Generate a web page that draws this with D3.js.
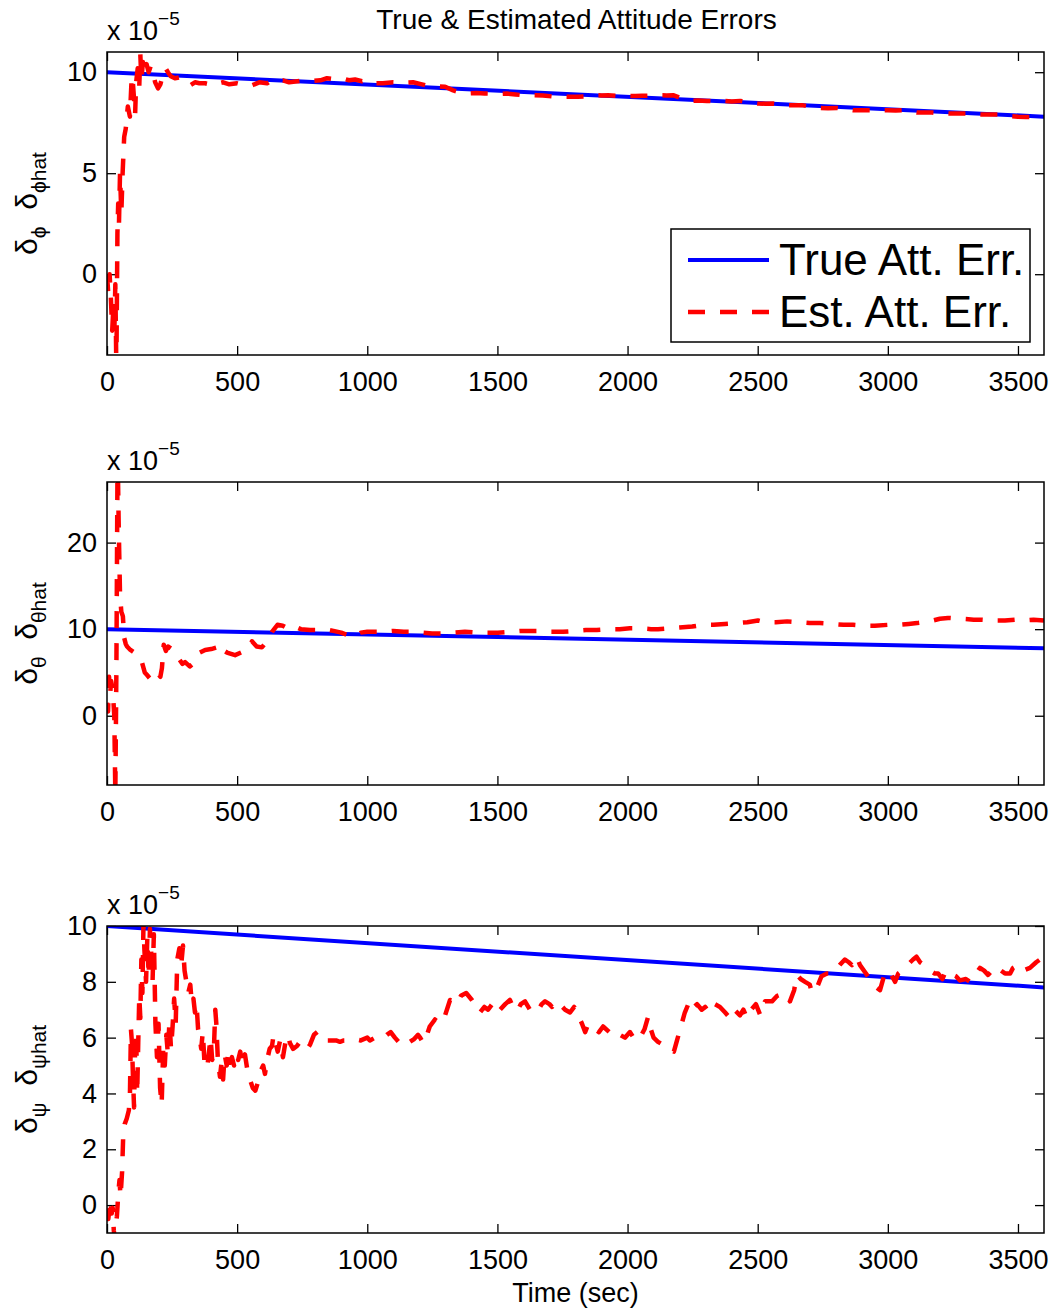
<!DOCTYPE html>
<html><head><meta charset="utf-8">
<script src="https://cdn.jsdelivr.net/npm/d3@7"></script>
<style>
body{margin:0;background:#fff;}
text{font-family:"Liberation Sans",Arial,Helvetica,sans-serif;fill:#000;}
</style></head>
<body>
<svg id="chart" width="1056" height="1312"></svg>
<script>
// ---------- DATA ----------
const xTicks = [0,500,1000,1500,2000,2500,3000,3500];
const trueT = [0, 3600];
const trueV = [10, 7.8];

// roll (phi) estimate, units of 1e-5
const estPhiT = [0,5,10,15,20,25,28,32,36,40,43,46,50,55,60,66,72,80,88,95,100,108,112,118,124,128,132,138,145,152,160,168,177,185,196,205,215,225,234,245,261,280,300,320,338,355,377,395,415,430,446,470,500,530,557,585,615,634,655,676,700,741,780,820,845,875,903,930,953,980,999,1030,1060,1100,1140,1176,1210,1241,1270,1299,1330,1364,1390,1421,1450,1479,1510,1537,1570,1598,1640,1675,1710,1748,1780,1810,1840,1867,1900,1925,1960,1998,2030,2055,2090,2117,2150,2175,2210,2240,2270,2305,2340,2367,2400,2432,2470,2501,2530,2559,2590,2612,2640,2670,2700,2739,2770,2805,2840,2866,2900,2931,2965,3000,3030,3058,3085,3112,3140,3170,3200,3239,3270,3304,3335,3366,3400,3431,3465,3500,3530,3565,3600];
const estPhiV = [0,-1,0,-1.2,-2.8,-1.5,-3,-0.5,-4.8,2,3.5,2.5,5,3,5,6.8,7.2,8.3,7.8,9.8,9.4,7.9,9.5,10.2,9.3,10.9,9.6,10.5,9.9,10.4,10.0,10.3,9.95,9.5,9.2,9.4,9.9,10.2,10.0,9.8,9.7,9.75,9.6,9.35,9.5,9.45,9.45,9.4,9.35,9.45,9.5,9.4,9.45,9.35,9.35,9.5,9.45,9.6,9.55,9.6,9.5,9.57,9.55,9.6,9.7,9.65,9.7,9.6,9.64,9.55,9.62,9.45,9.45,9.5,9.48,9.5,9.4,9.3,9.3,9.28,9.1,8.97,8.95,8.97,8.95,8.94,8.92,8.94,8.9,8.86,8.86,8.85,8.8,8.78,8.78,8.78,8.8,8.86,8.85,8.86,8.83,8.83,8.82,8.83,8.84,8.86,8.85,8.86,8.7,8.58,8.6,8.58,8.56,8.58,8.55,8.58,8.5,8.45,8.44,8.45,8.4,8.37,8.36,8.37,8.3,8.23,8.22,8.23,8.17,8.12,8.12,8.12,8.12,8.12,8.1,8.12,8.05,8.0,8.0,8.0,7.97,7.95,7.95,7.95,7.92,7.9,7.9,7.9,7.84,7.79,7.78,7.79,7.75];

// pitch (theta) estimate
const estThetaT = [0,4,8,12,16,22,28,32,36,38,40,42,45,50,55,61,66,72,77,90,100,120,134,145,154,165,173,192,205,211,218,226,235,254,265,273,290,300,318,330,350,377,400,423,434,450,461,492,515,538,557,575,595,615,634,655,675,700,722,745,780,810,838,870,900,945,975,1000,1030,1060,1100,1140,1176,1210,1249,1290,1330,1375,1420,1460,1502,1550,1590,1625,1660,1700,1752,1800,1840,1882,1930,1970,2009,2050,2090,2117,2160,2200,2248,2290,2330,2374,2420,2460,2501,2530,2570,2613,2660,2700,2739,2790,2830,2866,2910,2950,3000,3040,3080,3112,3160,3200,3231,3280,3330,3362,3410,3450,3488,3520,3560,3600];
const estThetaV = [1.5,0.5,4.5,2.5,4,3,0,-9,5,16,27,28,22,14,12,11.5,9,8.3,8.0,7.6,7.4,7.0,6.2,5.0,4.7,4.3,4.8,5.1,4.5,5.5,8.2,7.5,8.0,7.6,6.9,6.7,6.0,6.2,5.7,6.0,7.2,7.6,7.7,7.9,8.3,7.5,7.3,7.0,7.3,7.6,8.6,8.0,7.9,8.6,9.7,10.5,10.4,10.0,10.3,10.0,9.9,9.9,10.0,9.8,9.6,9.1,9.6,9.7,9.7,9.7,9.8,9.7,9.7,9.6,9.5,9.5,9.6,9.7,9.6,9.6,9.6,9.7,9.8,9.8,9.8,9.7,9.7,9.8,9.9,9.9,10.0,10.0,10.1,10.1,10.0,10.0,10.1,10.2,10.3,10.5,10.5,10.6,10.7,10.8,11.0,10.8,10.8,10.9,10.8,10.7,10.7,10.6,10.5,10.5,10.4,10.4,10.5,10.5,10.6,10.7,10.9,11.2,11.3,11.2,11.1,11.1,11.0,11.0,11.1,11.0,11.1,11.0];

// yaw (psi) estimate
const estPsiT = [0,5,10,14,18,22,26,30,38,44,48,52,58,62,68,76,84,88,92,96,100,104,108,112,116,120,124,128,132,136,140,144,150,155,160,165,170,175,180,186,192,198,204,210,216,222,228,234,240,246,252,258,264,270,278,285,292,298,305,312,320,326,332,338,344,350,356,362,368,374,380,386,392,398,404,410,416,420,426,434,440,446,452,460,466,474,480,488,496,504,512,520,530,540,549,560,570,580,590,600,607,615,625,634,640,648,656,665,676,685,695,703,715,730,741,755,770,780,795,808,818,830,845,860,880,895,910,925,950,975,1000,1010,1030,1057,1075,1090,1106,1120,1135,1150,1164,1180,1195,1203,1215,1222,1240,1260,1280,1299,1318,1335,1345,1360,1380,1402,1420,1433,1450,1464,1480,1491,1510,1530,1548,1560,1575,1590,1606,1625,1652,1670,1683,1700,1710,1725,1740,1760,1779,1795,1810,1825,1837,1850,1875,1890,1906,1930,1952,1971,1990,2009,2030,2048,2065,2079,2086,2100,2117,2144,2160,2178,2190,2205,2220,2240,2255,2267,2285,2298,2315,2335,2355,2375,2394,2410,2432,2445,2459,2475,2493,2510,2528,2545,2555,2575,2605,2624,2640,2651,2665,2682,2700,2709,2728,2745,2766,2785,2797,2815,2835,2850,2862,2880,2893,2916,2930,2939,2955,2970,2985,2993,3010,3028,3040,3054,3075,3097,3110,3124,3140,3162,3180,3193,3210,3223,3240,3262,3277,3300,3316,3340,3354,3370,3385,3400,3416,3435,3450,3470,3481,3500,3520,3546,3570,3585,3600];
const estPsiV = [-0.3,-0.5,-0.1,0.2,-0.3,-0.1,-0.9,-1.2,-0.4,0.5,0.9,0.3,1.2,2.4,2.9,3.1,3.4,3.9,6.3,5.8,4.5,3.5,5.6,6.2,4.0,5.8,7.5,6.7,8.8,7.6,10.0,9.1,8.0,9.6,8.2,9.9,9.0,8.0,9.7,6.5,5.3,6.5,4.2,3.6,5.6,5.0,6.1,5.4,6.6,5.6,6.4,7.4,6.5,8.8,9.2,8.6,9.3,8.4,8.0,7.6,7.9,7.2,7.4,6.9,7.2,6.3,6.0,5.6,6.2,5.2,5.3,5.0,5.5,6.0,5.2,5.4,7.0,6.5,5.2,4.6,5.1,4.5,5.4,5.0,5.5,5.1,5.3,5.0,5.4,5.2,5.5,5.0,5.4,4.8,4.5,4.2,4.1,4.4,4.8,5.0,4.7,5.2,5.6,5.7,6.1,5.8,5.5,5.9,5.3,5.8,6.1,5.8,5.6,5.7,5.85,5.7,5.6,5.75,6.1,6.2,6.0,6.0,5.9,5.9,5.9,5.85,5.9,5.9,5.95,5.9,6.0,5.9,6.0,5.95,6.1,6.2,6.0,5.85,5.9,6.0,5.85,5.95,6.1,6.0,5.8,5.9,6.4,6.65,6.5,6.8,7.35,7.3,7.2,7.5,7.6,7.35,7.1,6.9,7.1,7.0,7.2,7.3,7.0,7.2,7.35,7.1,6.95,7.2,7.3,7.0,6.9,7.2,7.3,7.2,7.1,7.3,7.2,7.0,6.9,7.1,6.8,6.5,6.2,6.5,6.3,6.2,6.4,6.2,6.0,6.1,6.0,6.2,5.9,6.0,6.3,6.75,6.4,6.0,5.85,5.7,5.6,5.5,5.9,6.4,6.9,7.35,7.1,7.2,7.0,7.1,6.9,7.2,7.1,6.9,6.7,7.0,6.8,7.0,6.7,7.0,7.2,6.8,7.3,7.3,7.3,7.5,7.6,7.3,7.7,8.25,8.1,8.0,7.9,7.6,7.8,8.2,8.3,8.3,8.4,8.6,8.8,8.7,8.6,8.9,8.6,8.3,8.1,8.0,7.8,7.7,8.2,8.4,8.3,8.0,8.3,8.4,8.6,8.8,8.9,8.7,8.6,8.4,8.3,8.3,8.1,8.4,8.3,8.2,8.05,8.1,8.0,8.3,8.5,8.4,8.25,8.4,8.55,8.4,8.3,8.3,8.5,8.6,8.4,8.5,8.7,8.8,8.65];

const phiTicks = [0,5,10];
const thetaTicks = [0,10,20];
const psiTicks = [0,2,4,6,8,10];

// ---------- LAYOUT ----------
const svg = d3.select("#chart");
const X0 = 107, X1 = 1044;
const FS = 27;
const x = d3.scaleLinear().domain([0,3600]).range([X0,X1]);

const panels = [
  {top:52, bottom:355, dom:[-4,11], ticks:phiTicks, T:estPhiT, V:estPhiV, sym:"ϕ"},
  {top:482, bottom:785, dom:[-8,27], ticks:thetaTicks, T:estThetaT, V:estThetaV, sym:"θ"},
  {top:926, bottom:1233, dom:[-1,10], ticks:psiTicks, T:estPsiT, V:estPsiV, sym:"ψ"}
];

panels.forEach((p,i)=>{
  const y = d3.scaleLinear().domain(p.dom).range([p.bottom,p.top]);
  const g = svg.append("g");
  const cid = "clip"+i;
  svg.append("clipPath").attr("id",cid).append("rect")
    .attr("x",X0).attr("y",p.top).attr("width",X1-X0).attr("height",p.bottom-p.top);

  const styleAxis = sel => {
    sel.select(".domain").remove();
    sel.selectAll(".tick line").attr("stroke","#000").attr("stroke-width",1.3);
    sel.selectAll("text").style("font-size",FS+"px").attr("fill","#000");
  };
  g.append("g").attr("transform",`translate(0,${p.bottom})`)
    .call(d3.axisBottom(x).tickValues(xTicks).tickSize(-9).tickPadding(17).tickFormat(d3.format("d")))
    .call(styleAxis).selectAll("text").attr("dy","0.71em");
  g.append("g").attr("transform",`translate(0,${p.top})`)
    .call(d3.axisTop(x).tickValues(xTicks).tickSize(-9).tickFormat(""))
    .call(styleAxis);
  g.append("g").attr("transform",`translate(${X0},0)`)
    .call(d3.axisLeft(y).tickValues(p.ticks).tickSize(-9).tickPadding(10).tickFormat(d3.format("d")))
    .call(styleAxis);
  g.append("g").attr("transform",`translate(${X1},0)`)
    .call(d3.axisRight(y).tickValues(p.ticks).tickSize(-9).tickFormat(""))
    .call(styleAxis);

  const line = d3.line().x(d=>x(d[0])).y(d=>y(d[1]));
  const lg = g.append("g").attr("clip-path",`url(#${cid})`);
  lg.append("path").datum(trueT.map((t,k)=>[t,trueV[k]]))
    .attr("d",line).attr("fill","none").attr("stroke","#0000ff").attr("stroke-width",4);
  lg.append("path").datum(p.T.map((t,k)=>[t,p.V[k]]))
    .attr("d",line).attr("fill","none").attr("stroke","#ff0000").attr("stroke-width",4.5)
    .attr("stroke-dasharray","17,15").attr("stroke-linejoin","round");

  g.append("rect").attr("x",X0).attr("y",p.top).attr("width",X1-X0).attr("height",p.bottom-p.top)
    .attr("fill","none").attr("stroke","#000").attr("stroke-width",1.5);

  const ex = g.append("text").attr("x",X0).attr("y",p.top-12).style("font-size",FS+"px");
  ex.append("tspan").text("x 10");
  ex.append("tspan").attr("dy",-15).style("font-size","19px").text("−5");

  const cy = (p.top+p.bottom)/2;
  const yl = g.append("text").attr("transform",`translate(37,${cy}) rotate(-90)`)
    .attr("text-anchor","middle").style("font-size","30px");
  yl.append("tspan").text("δ");
  yl.append("tspan").attr("dy",9).style("font-size","21px").text(p.sym);
  yl.append("tspan").attr("dy",-9).text("\u00a0\u00a0δ");
  yl.append("tspan").attr("dy",9).style("font-size","21px").text(p.sym+"hat");
});

svg.append("text").attr("x",(X0+X1)/2 + 1).attr("y",29).attr("text-anchor","middle")
  .style("font-size","28px").text("True & Estimated Attitude Errors");
svg.append("text").attr("x",(X0+X1)/2).attr("y",1302).attr("text-anchor","middle")
  .style("font-size",FS+"px").text("Time (sec)");

const lgd = svg.append("g");
lgd.append("rect").attr("x",671).attr("y",229).attr("width",359).attr("height",113)
  .attr("fill","#fff").attr("stroke","#000").attr("stroke-width",1.5);
lgd.append("line").attr("x1",688).attr("x2",769).attr("y1",260).attr("y2",260)
  .attr("stroke","#0000ff").attr("stroke-width",4);
lgd.append("line").attr("x1",688).attr("x2",769).attr("y1",312).attr("y2",312)
  .attr("stroke","#ff0000").attr("stroke-width",4.5).attr("stroke-dasharray","17,15");
lgd.append("text").attr("x",779).attr("y",275).style("font-size","44px").text("True Att. Err.");
lgd.append("text").attr("x",779).attr("y",327).style("font-size","44px").text("Est. Att. Err.");
</script>
</body></html>
